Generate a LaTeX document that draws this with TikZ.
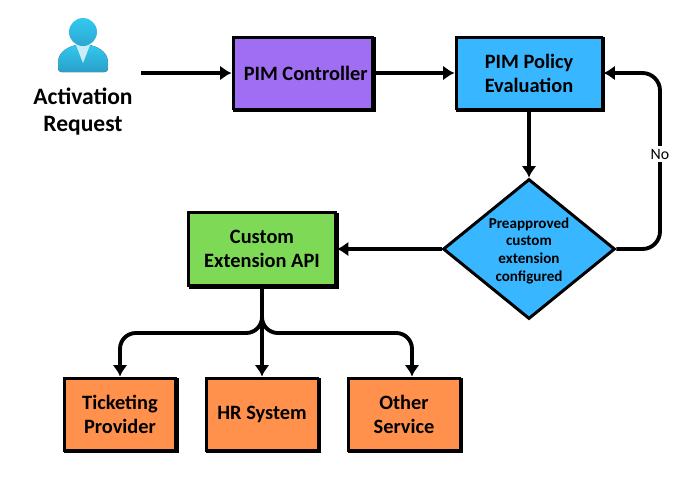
\documentclass[tikz,border=0pt]{standalone}
\usepackage{fontspec}
\setmainfont{Carlito}
\usetikzlibrary{positioning}
\usetikzlibrary{shapes.geometric, arrows.meta, shadows}

\definecolor{pimpurple}{HTML}{A06EF2}
\definecolor{pimblue}{HTML}{38B6FF}
\definecolor{apigreen}{HTML}{7ED957}
\definecolor{svcorange}{HTML}{FF914D}
\definecolor{icontop}{HTML}{33C9F0}
\definecolor{iconlow}{HTML}{2A9FC9}
\definecolor{iconvee}{HTML}{C8EDF8}

\tikzset{
    flowbox/.style={rectangle, draw=black, line width=1.7pt, align=center, text=black,
        font=\fontsize{11.6}{13.6}\selectfont\bfseries, inner sep=0pt,
        copy shadow={draw=black, fill=black, shadow xshift=0.035cm, shadow yshift=-0.035cm}},
    link/.style={draw=black, line width=2.2pt, -{Latex[length=6.5pt,width=8.5pt]}}
}

\begin{document}
\begin{tikzpicture}[x=0.02cm, y=-0.02cm]
    \useasboundingbox (0,0) rectangle (696,485);

    % user icon
    \fill[top color=icontop, bottom color=iconlow, rounded corners=2pt]
        (58,72) -- (58,64) .. controls (59,52) and (68,46) .. (83,44) .. controls (98,46) and (107,52) .. (108,64) -- (108,72) -- cycle;
    \fill[iconvee] (76,45) -- (90,45) -- (83,63) -- cycle;
    \node[circle, top color=icontop, bottom color=iconlow!80!icontop, minimum size=0.56cm, inner sep=0pt] (head) at (83,32) {};
    \node[align=center, font=\fontsize{13.4}{15.4}\selectfont\bfseries] (request) at (83,112) {Activation\\Request};

    % boxes
    \node[flowbox, fill=pimpurple, minimum width=2.8cm, minimum height=1.44cm] (controller) at (303,73) {\hspace*{3pt}PIM Controller};
    \node[flowbox, fill=pimblue, minimum width=2.92cm, minimum height=1.44cm] (policy) at (529,73) {PIM Policy\\Evaluation};
    \node[flowbox, fill=apigreen, minimum width=2.94cm, minimum height=1.46cm] (api) at (262,249) {Custom\\Extension API};
    \node[flowbox, fill=svcorange, minimum width=2.24cm, minimum height=1.44cm] (ticketing) at (120,414) {Ticketing\\Provider};
    \node[flowbox, fill=svcorange, minimum width=2.24cm, minimum height=1.44cm] (hr) at (262,414) {HR System};
    \node[flowbox, fill=svcorange, minimum width=2.24cm, minimum height=1.44cm] (other) at (404,414) {Other\\Service};
    \node[diamond, draw=black, line width=1.7pt, fill=pimblue, aspect=1.23, inner sep=0pt, minimum width=3.44cm, minimum height=2.8cm,
        align=center, font=\fontsize{8.6}{10}\selectfont\bfseries] (check) at (529,249) {\rule{0pt}{8pt}Preapproved\\custom\\extension\\configured};

    % connectors
    \coordinate (reqend) at (141,73);
    \coordinate (loopturn) at (660,73);
    \draw[link] (reqend) -- (controller);
    \draw[link] (controller) -- (policy);
    \draw[link] (policy) -- (check);
    \draw[link] (check) -- (api);
    \draw[link, rounded corners=10pt] (check.east) -| (loopturn) -- (policy.east);
    \draw[link, rounded corners=9pt] (api.south) -- ++(0,46) -| (ticketing.north);
    \draw[link, rounded corners=9pt] (api.south) -- ++(0,46) -| ([xshift=0.16cm]other.north);
    \draw[link] (api) -- (hr);

    \node[fill=white, inner sep=1.5pt, font=\fontsize{9}{11}\selectfont] (no) at (660,154) {No};
\end{tikzpicture}
\end{document}
